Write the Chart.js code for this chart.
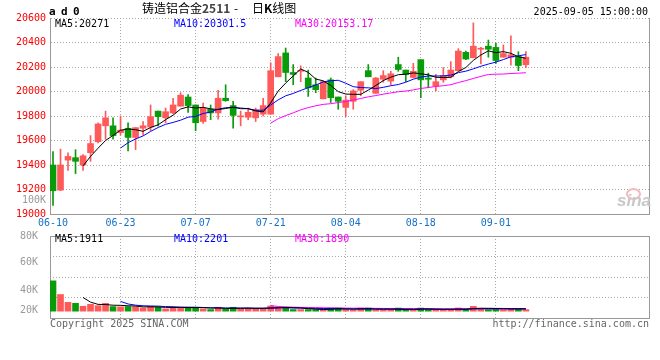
<!DOCTYPE html>
<html><head><meta charset="utf-8">
<script src="https://cdn.jsdelivr.net/npm/chart.js@4.4.1/dist/chart.umd.min.js"></script>
<style>
html,body{margin:0;padding:0;background:#fff;}
#wrap{position:relative;width:660px;height:360px;overflow:hidden;background:#fff;}
canvas{position:absolute;left:0;}
.t{position:absolute;font-family:"DejaVu Sans Mono",monospace;font-size:10px;line-height:12px;white-space:pre;}
.cjk{position:absolute;font-family:"Noto Sans CJK SC",sans-serif;font-size:12px;line-height:12px;white-space:pre;color:#000;}
</style></head><body>
<div id="wrap">
<canvas id="pc" width="660" height="232" style="top:0px"></canvas>
<canvas id="vc" width="660" height="104" style="top:226px"></canvas>
<div class="t" style="left:49px;top:6px;font-size:11px;font-weight:bold;letter-spacing:5.4px;">ad0</div>
<div class="cjk" style="left:142px;top:2px;">铸造铝合金<span style="color:#444;font-weight:bold;">2511</span></div>
<div class="cjk" style="left:234px;top:2px;">-</div>
<div class="cjk" style="left:252px;top:2px;">日<b>K</b>线图</div>
<div class="t" style="right:12px;top:6px;color:#000;">2025-09-05 15:00:00</div>
<div class="t" style="left:55px;top:18px;color:#000;">MA5:20271</div>
<div class="t" style="left:174px;top:18px;color:#0000ff;">MA10:20301.5</div>
<div class="t" style="left:295px;top:18px;color:#ff00ff;">MA30:20153.17</div>
<div class="t" style="left:22px;top:194px;color:#999;">100K</div>
<div class="t" style="left:55px;top:233px;color:#000;">MA5:1911</div>
<div class="t" style="left:174px;top:233px;color:#0000ff;">MA10:2201</div>
<div class="t" style="left:295px;top:233px;color:#ff00ff;">MA30:1890</div>
<div class="t" style="left:50px;top:318px;color:#666;">Copyright 2025 SINA.COM</div>
<div class="t" style="right:11px;top:318px;color:#666;">http://finance.sina.com.cn</div>
<div style="position:absolute;left:626px;top:188px;width:11px;height:8px;border:2px solid #f3b8b8;border-radius:50%;"></div>
<div style="position:absolute;left:617px;top:192px;font:italic bold 17px 'Liberation Sans',sans-serif;line-height:17px;color:#c8c8c8;">sina</div>
</div>
<script>
const dates = ['06-10','06-11','06-12','06-13','06-16','06-17','06-18','06-19','06-20','06-23','06-24','06-25','06-26','06-27','06-30',
'07-01','07-02','07-03','07-04','07-07','07-08','07-09','07-10','07-11','07-14','07-15','07-16','07-17','07-18','07-21','07-22','07-23','07-24','07-25','07-28','07-29','07-30','07-31',
'08-01','08-04','08-05','08-06','08-07','08-08','08-11','08-12','08-13','08-14','08-15','08-18','08-19','08-20','08-21','08-22','08-25','08-26','08-27','08-28','08-29',
'09-01','09-02','09-03','09-04','09-05'];
const opens = [19400,19195,19440,19460,19400,19500,19590,19720,19720,19665,
19700,19625,19700,19710,19840,19785,19825,19880,19955,19890,
19755,19855,19825,19945,19885,19793,19790,19785,19815,19815,
20120,20315,20155,20165,20110,20055,19940,20095,19955,19870,
19920,20010,20170,19985,20100,20085,20220,20175,20115,20260,
20110,20045,20095,20120,20170,20320,20275,20345,20370,20360,
20280,20280,20285,20218];
const highs = [19510,19530,19500,19525,19485,19640,19745,19840,19785,19800,
19745,19705,19755,19890,19840,19865,19945,19990,19975,19890,
19905,19890,20010,20055,19920,19840,19865,19865,19945,20235,
20310,20355,20220,20210,20175,20110,20085,20110,19955,19965,
20015,20080,20220,20115,20170,20165,20280,20175,20230,20260,
20150,20140,20195,20245,20350,20330,20560,20360,20420,20395,
20380,20455,20325,20325];
const lows = [19070,19190,19355,19330,19355,19430,19580,19610,19610,19645,
19515,19525,19645,19680,19720,19745,19820,19880,19830,19680,
19740,19770,19775,19920,19700,19720,19770,19755,19800,19815,
20120,20080,20055,20080,19960,19990,19940,19910,19855,19795,
19855,19965,20120,19985,20075,20055,20165,20080,20110,19950,
20030,20005,20075,20110,20170,20260,20275,20225,20280,20230,
20280,20215,20170,20195];
const closes = [19190,19400,19470,19430,19475,19575,19735,19785,19640,19685,
19625,19705,19720,19795,19795,19835,19890,19970,19885,19745,
19865,19825,19945,19925,19805,19797,19830,19850,19885,20170,
20285,20155,20140,20170,20030,20015,20080,19950,19920,19930,
20005,20080,20120,20110,20130,20145,20180,20140,20165,20095,
20100,20080,20130,20175,20330,20265,20370,20350,20345,20253,
20310,20300,20212,20280];
const volumes = [26400,14500,7700,6800,4300,6000,4800,6800,4000,3800,
4000,4000,2800,4300,3400,2000,3400,3400,3400,3400,
2000,1400,3400,2000,3400,2000,2500,2500,2500,4500,
3400,3400,1400,1400,1400,1400,1400,2700,2700,1400,
1190,2700,2700,1100,1100,1100,2700,1400,1400,2700,
1400,1400,1400,1400,2800,1500,4200,2600,1360,2300,
1300,2300,2300,1350];
const xTickIdx = [0,9,19,29,39,49,59];
const volTickLabels = ['80K','60K','40K','20K'];
const volTickAt = [84,57,28,8];

const RED = '#ff5a5a', GREEN = '#0a9b0a', GRID = '#a8a8a8', FRAME = '#999';
const MONO = {family:'DejaVu Sans Mono', size:10};
const idx = dates.map((_, i) => i);
const colors = idx.map(i => closes[i] >= opens[i] ? RED : GREEN);
function movingAvg(arr, n) {
  const out = [];
  for (let i = n - 1; i < arr.length; i++) {
    let s = 0; for (let k = i - n + 1; k <= i; k++) s += arr[k];
    out.push({x: i, y: s / n});
  }
  return out;
}
const line = (data, color, yID) => ({type:'line', data, borderColor:color, borderWidth:1, pointRadius:0, tension:0, yAxisID:yID, order:0});
const xBase = {
  type:'linear', min:-0.4, max:79.4, offset:false,
  afterBuildTicks: s => { s.ticks = xTickIdx.map(v => ({value:v})); },
  grid:{color: c => (c.tick && c.tick.value === 0) ? 'rgba(0,0,0,0)' : GRID, drawTicks:false, offset:false},
  border:{color:FRAME, dash:[1,2]}
};

new Chart(document.getElementById('pc'), {
  type:'bar',
  data:{datasets:[
    line(movingAvg(closes,5), '#000000', 'y'),
    line(movingAvg(closes,10), '#0000ff', 'y'),
    line(movingAvg(closes,30), '#ff00ff', 'y'),
    {type:'bar', data: idx.map(i => ({x:i, y:[opens[i], closes[i]]})), backgroundColor:colors, barThickness:6, minBarLength:1, grouped:false, order:1, yAxisID:'y'},
    {type:'bar', data: idx.map(i => ({x:i, y:[lows[i], highs[i]]})), backgroundColor:colors, barThickness:1, grouped:false, order:2, yAxisID:'y'}
  ]},
  options:{
    responsive:false, animation:false, events:[],
    layout:{padding:{left:0, right:11, top:18, bottom:0}},
    plugins:{legend:{display:false}, tooltip:{enabled:false}},
    scales:{
      x: Object.assign({}, xBase, {
        ticks:{autoSkip:false, maxRotation:0, color:'#1670c4', font:MONO, padding:3, callback: v => dates[v]},
        afterFit: s => { s.height = 18; }
      }),
      y:{position:'left', min:19000, max:20600,
        ticks:{stepSize:200, color:'#ff0000', font:MONO, padding:4, callback: v => String(v)},
        grid:{color:GRID, drawTicks:false},
        border:{color:FRAME, dash:[1,2]},
        afterFit: s => { s.width = 50; }},
      yr:{position:'right', min:0, max:1, ticks:{display:false}, grid:{display:false},
        border:{color:FRAME}, afterFit: s => { s.width = 0; }}
    }
  }
});

new Chart(document.getElementById('vc'), {
  type:'bar',
  data:{datasets:[
    line(movingAvg(volumes,5), '#000000', 'yv'),
    line(movingAvg(volumes,10), '#0000ff', 'yv'),
    line(movingAvg(volumes,30), '#ff00ff', 'yv'),
    {type:'bar', data: idx.map(i => ({x:i, y:volumes[i]})), backgroundColor:colors, barThickness:6, grouped:false, order:1, yAxisID:'yv'}
  ]},
  options:{
    responsive:false, animation:false, events:[],
    layout:{padding:{left:0, right:11, top:8, bottom:0}},
    plugins:{legend:{display:false}, tooltip:{enabled:false}},
    scales:{
      x: Object.assign({}, xBase, {
        ticks:{display:false}, border:{color:FRAME, dash:[1,2]},
        afterFit: s => { s.height = 12; }
      }),
      xt:{type:'linear', position:'top', min:0, max:1, offset:false, ticks:{display:false}, grid:{display:false},
        border:{color:FRAME}, afterFit: s => { s.height = 0; }},
      yv:{display:false, min:-5950, max:65450},
      yl:{position:'left', min:0, max:84,
        afterBuildTicks: s => { s.ticks = volTickAt.map(v => ({value:v})); },
        ticks:{color:'#999', font:MONO, padding:4, callback: (v, i) => volTickLabels[i]},
        grid:{display:false}, border:{color:FRAME},
        afterFit: s => { s.width = 50; }},
      yg:{position:'right', min:0, max:4, ticks:{display:false, stepSize:1},
        grid:{color:GRID, drawTicks:false}, border:{color:FRAME, dash:[1,2]},
        afterFit: s => { s.width = 0; }}
    }
  }
});
</script>
</body></html>
